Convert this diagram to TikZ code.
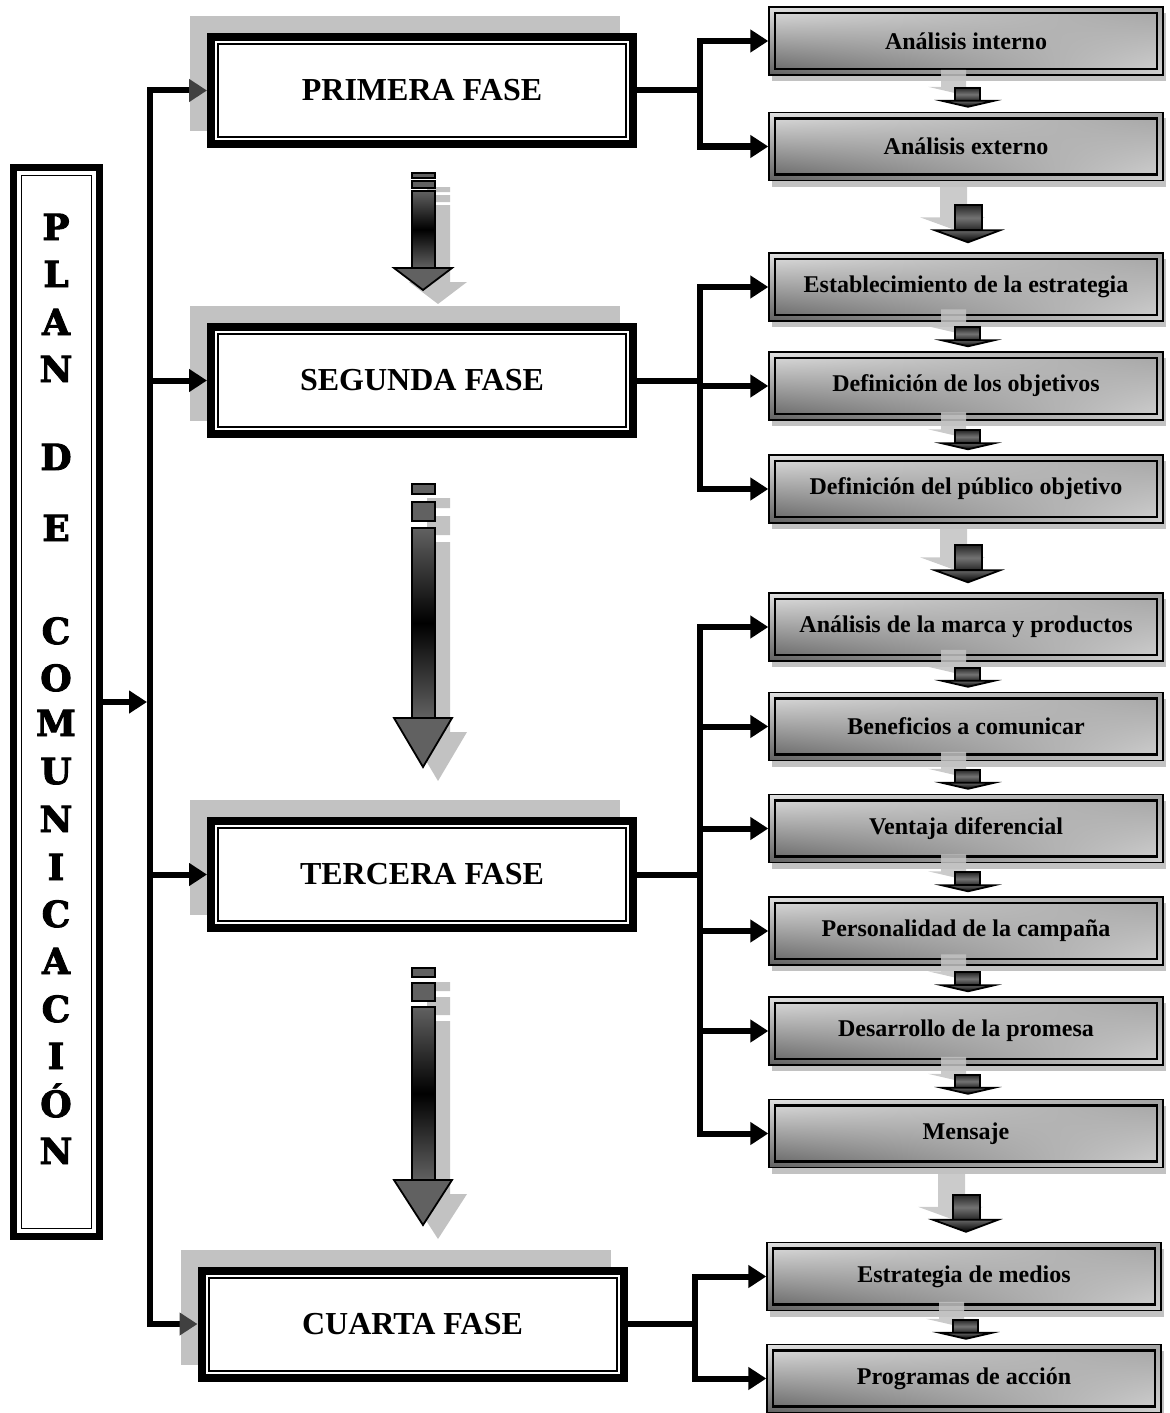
\documentclass[tikz,border=0pt]{standalone}
\usepackage{fontspec}
\setmainfont{Liberation Serif}
\newfontfamily\stencil[BoldFeatures={FakeBold=2.5}]{DejaVu Serif}
\usetikzlibrary{arrows.meta,calc,shadows,shadings}

\definecolor{sombra}{gray}{0.76}
\definecolor{grisflecha}{gray}{0.38}
\definecolor{grispunta}{gray}{0.25}

\begin{document}
\begin{tikzpicture}[x=0.5pt,y=-0.5pt,
	fase node/.style={draw,line width=4pt,fill=white,minimum width=211pt,minimum height=53.5pt,
		font=\fontsize{16}{19}\selectfont\bfseries,
		general shadow={fill=sombra,draw=sombra,line width=4pt,shadow xshift=-8.5pt,shadow yshift=8.5pt},
		path picture={\draw[line width=1pt] ([shift={(3.5pt,-3.5pt)}]path picture bounding box.north west) rectangle ([shift={(-3.5pt,3.5pt)}]path picture bounding box.south east);}},
	plan node/.style={draw,line width=3.5pt,fill=white,minimum width=43pt,minimum height=534.5pt,
		path picture={\draw[line width=0.8pt] ([shift={(4pt,-4pt)}]path picture bounding box.north west) rectangle ([shift={(-4pt,4pt)}]path picture bounding box.south east);}},
	letra/.style={anchor=base,inner sep=0pt,font=\stencil\fontsize{18}{20}\selectfont\bfseries},
	paso node/.style={draw,line width=0.7pt,minimum width=197pt,minimum height=34pt,
		upper left=black!12,upper right=black!36,lower right=black!18,lower left=black!62,
		font=\fontsize{12}{14}\selectfont\bfseries,
		general shadow={fill=sombra,shadow xshift=1.5pt,shadow yshift=-3pt},
		path picture={\draw[line width=1.3pt] ([shift={(3pt,-3pt)}]path picture bounding box.north west) rectangle ([shift={(-3pt,3pt)}]path picture bounding box.south east);}},
	bus/.style={line width=3pt,line cap=rect},
	flecha/.style={line width=3pt,-{Triangle[length=9pt,width=11pt]}},
	flecha gris/.style={line width=3pt,-{Triangle[length=9pt,width=11pt,color=grispunta]}},
	bloque/.style={draw,line width=0.9pt,fill=grisflecha},
	fuste/.style={draw,line width=1pt,top color=grisflecha,bottom color=grisflecha,middle color=black},
	fuste chico/.style={draw,line width=0.9pt,top color=black!85,bottom color=black!85,middle color=black!55},
	punta chica/.style={draw,line width=0.9pt,top color=black!60,bottom color=black}
]

	\useasboundingbox (0,0) rectangle (1170,1413);

	\node[plan node] (plan) at (56.5,702) {};
	\foreach \l/\y [count=\k] in {P/240,L/287,A/335,N/382,D/470,E/541,C/644,O/691,M/736,U/784,N/832,I/880,C/927,A/974,C/1022,I/1069,Ó/1117,N/1164}
		\node[letra] (le\k) at (56,\y) {\l};

	\node[fase node] (p1) at (422,90.5) {PRIMERA FASE};
	\node[fase node] (p2) at (422,380.5) {SEGUNDA FASE};
	\node[fase node] (p3) at (422,874.5) {TERCERA FASE};
	\node[fase node] (p4) at (412.5,1324) {CUARTA FASE};

	\foreach \n/\y/\t in {1/41/Análisis interno,2/146.5/Análisis externo,3/287/Establecimiento de la estrategia,
		4/386/Definición de los objetivos,5/489/Definición del público objetivo,6/627/Análisis de la marca y productos,
		7/726.5/Beneficios a comunicar,8/828.5/Ventaja diferencial,9/931/Personalidad de la campaña,
		10/1031/Desarrollo de la promesa,11/1133.5/Mensaje}
		\node[paso node] (r\n) at (966,\y) {\t};
	\node[paso node] (r12) at (964,1276.5) {Estrategia de medios};
	\node[paso node] (r13) at (964,1378.5) {Programas de acción};

	\coordinate (tr) at (150,0);
	\coordinate (br) at (700,0);
	\coordinate (bq) at (695,0);

	\draw[bus] (p1.west -| tr) -- (p4.west -| tr);
	\draw[flecha,shorten >=1.5pt] (plan.east) -- (plan.east -| tr);
	\draw[flecha gris] (p1.west -| tr) -- (p1.west);
	\draw[flecha] (p2.west -| tr) -- (p2.west);
	\draw[flecha] (p3.west -| tr) -- (p3.west);
	\draw[flecha gris] (p4.west -| tr) -- (p4.west);

	\draw[bus] (p1.east) -- (p1.east -| br);
	\draw[bus] (r1.west -| br) -- (r2.west -| br);
	\draw[bus] (p2.east) -- (p2.east -| br);
	\draw[bus] (r3.west -| br) -- (r5.west -| br);
	\draw[bus] (p3.east) -- (p3.east -| br);
	\draw[bus] (r6.west -| br) -- (r11.west -| br);
	\foreach \n in {1,...,11}
		\draw[flecha] (r\n.west -| br) -- (r\n.west);
	\draw[bus] (p4.east) -- (p4.east -| bq);
	\draw[bus] (r12.west -| bq) -- (r13.west -| bq);
	\foreach \n in {12,13}
		\draw[flecha] (r\n.west -| bq) -- (r\n.west);

	\foreach \ta/\tb/\tc/\td/\te/\tf/\tg in {173/178/181/188/191/268/290,484/494/502/521/528/718/767,968/977/983/1001/1007/1180/1225} {
		\begin{scope}[shift={(15,14)}]
			\fill[sombra] (412,\ta) rectangle (435,\tb) (412,\tc) rectangle (435,\td) (412,\te) rectangle (435,\tf)
				(394,\tf) -- (452,\tf) -- (423,\tg) -- cycle;
		\end{scope}
		\draw[bloque] (412,\ta) rectangle (435,\tb);
		\draw[bloque] (412,\tc) rectangle (435,\td);
		\draw[fuste] (412,\te) rectangle (435,\tf);
		\draw[bloque] (394,\tf) -- (452,\tf) -- (423,\tg) -- cycle;
	}

	\foreach \b in {r2,r4,r5,r7,r8,r9,r10,r11,r13} {
		\begin{scope}[shift={($(\b.north)+(2,-5)$)}]
			\fill[sombra,fill opacity=0.85] (-27,-37) rectangle (-2,-20) (-40,-20) -- (12,-20) -- (-14,-14) -- cycle;
			\draw[fuste chico] (-13,-19) rectangle (12,-6);
			\draw[punta chica] (-26,-6) -- (26,-6) -- (0,0) -- cycle;
		\end{scope}
	}
	\foreach \b in {r3,r6,r12} {
		\begin{scope}[shift={($(\b.north)+(2,-10)$)}]
			\fill[sombra,fill opacity=0.85] (-28,-58) rectangle (-1,-25) (-48,-25) -- (17,-25) -- (-15,-13) -- cycle;
			\draw[fuste chico] (-13,-37) rectangle (14,-12);
			\draw[punta chica] (-33,-12) -- (32,-12) -- (0,0) -- cycle;
		\end{scope}
	}
\end{tikzpicture}
\end{document}
